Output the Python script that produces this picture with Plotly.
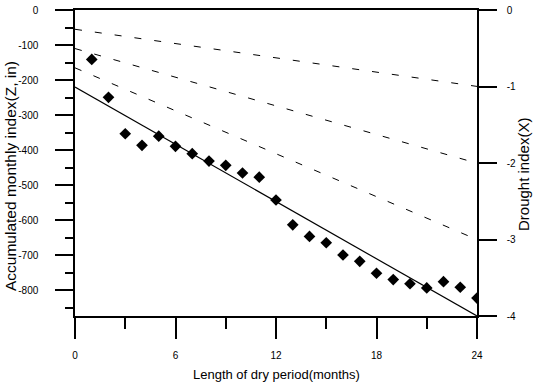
import plotly.graph_objects as go

# Data
months = list(range(1, 25))
z_values = [-141, -249, -353, -386, -360, -389, -410, -431, -443, -465, -477, -542,
            -613, -646, -664, -699, -717, -751, -769, -781, -793, -775, -791, -822]

# Reference lines for drought index X = -1, -2, -3 (dashed), -4 (solid)
line_x = [0, 24]
line_x_m1 = [-55, -218]
line_x_m2 = [-110, -437]
line_x_m3 = [-165, -655]
line_x_m4 = [-220, -873]

x_ticks = [0, 6, 12, 18, 24]
y_ticks = [0, -100, -200, -300, -400, -500, -600, -700, -800]
y2_ticks = [0, -1, -2, -3, -4]

tickfont = dict(family="Liberation Sans Narrow, Arial Narrow, Liberation Sans", size=10, color="black")

fig = go.Figure()
dash = "7px,13px"
for ys in (line_x_m1, line_x_m2, line_x_m3):
    fig.add_trace(go.Scatter(x=line_x, y=ys, mode="lines",
                             line=dict(color="black", width=1, dash=dash),
                             showlegend=False, hoverinfo="skip"))
fig.add_trace(go.Scatter(x=line_x, y=line_x_m4, mode="lines",
                         line=dict(color="black", width=1.2),
                         showlegend=False, hoverinfo="skip"))
fig.add_trace(go.Scatter(x=months, y=z_values, mode="markers",
                         marker=dict(symbol="diamond", size=9, color="black"),
                         showlegend=False))
# invisible trace to activate right axis
fig.add_trace(go.Scatter(x=[0], y=[0], yaxis="y2", mode="markers",
                         marker=dict(opacity=0), showlegend=False, hoverinfo="skip"))

fig.update_layout(
    width=533, height=386,
    margin=dict(l=75, r=56, t=10, b=70, autoexpand=False),
    paper_bgcolor="white", plot_bgcolor="white",
    xaxis=dict(range=[0, 24], tickvals=x_ticks, ticktext=[str(v) for v in x_ticks],
               automargin=False,
               showgrid=False, zeroline=False, showline=True, linecolor="black",
               linewidth=1.5, mirror=True, ticks="outside", ticklen=21,
               tickcolor="black", tickwidth=1.5, tickfont=tickfont,
               ticklabelstandoff=8,
               minor=dict(dtick=3, tick0=0, ticks="outside", ticklen=11,
                          tickcolor="black", tickwidth=1.5)),
    yaxis=dict(range=[-873, 0], tickvals=y_ticks, ticktext=[str(v) for v in y_ticks],
               automargin=False,
               showgrid=False, zeroline=False, showline=True, linecolor="black",
               linewidth=1.5, ticks="outside", ticklen=18,
               tickcolor="black", tickwidth=1.5, tickfont=tickfont,
               ticklabelstandoff=15,
               minor=dict(dtick=50, tick0=0, ticks="outside", ticklen=8,
                          tickcolor="black", tickwidth=1.5)),
    yaxis2=dict(range=[-4, 0], tickvals=y2_ticks, ticktext=[str(v) for v in y2_ticks],
                overlaying="y", side="right", anchor="x", automargin=False,
                showgrid=False, zeroline=False, showline=True, linecolor="black",
                linewidth=1.5, ticks="outside", ticklen=18,
                tickcolor="black", tickwidth=1.5, tickfont=tickfont,
                ticklabelstandoff=8),
    annotations=[
        dict(text="Accumulated monthly index(Z, in)", xref="paper", yref="paper",
             x=0, y=0.5, xanchor="center", yanchor="middle", xshift=-65, yshift=-13,
             textangle=-90, showarrow=False,
             font=dict(family="Liberation Sans, Arial", size=15.5, color="black")),
        dict(text="Drought index(X)", xref="paper", yref="paper",
             x=1, y=0.5, xanchor="center", yanchor="middle", xshift=46, yshift=-12,
             textangle=-90, showarrow=False,
             font=dict(family="Liberation Sans, Arial", size=15, color="black")),
        dict(text="Length of dry period(months)", xref="paper", yref="paper",
             x=0.5, y=0, xanchor="center", yanchor="middle", yshift=-58,
             showarrow=False, font=dict(family="Liberation Sans, Arial", size=13, color="black")),
    ],
)

fig.write_html("out.html")
